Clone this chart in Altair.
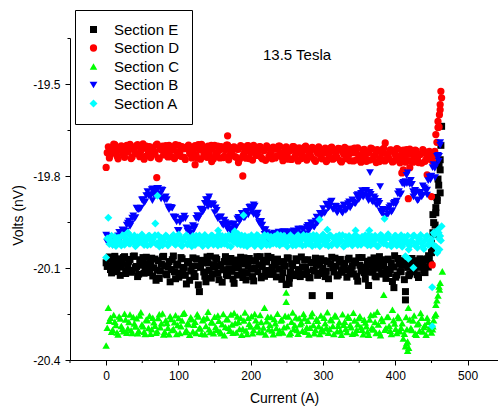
import altair as alt
import pandas as pd

# Current sweep, first reading of every section (A)
current = [
    0, 3, 6, 9, 12, 15, 18, 21, 24, 27,
    30, 33, 36, 39, 42, 45, 48, 51, 54, 57,
    60, 63, 66, 69, 72, 75, 78, 81, 84, 87,
    90, 93, 96, 99, 102, 105, 108, 111, 114, 117,
    120, 123, 126, 129, 132, 135, 138, 141, 144, 147,
    150, 153, 156, 159, 162, 165, 168, 171, 174, 177,
    180, 183, 186, 189, 192, 195, 198, 201, 204, 207,
    210, 213, 216, 219, 222, 225, 228, 231, 234, 237,
    240, 243, 246, 249, 252, 255, 258, 261, 264, 267,
    270, 273, 276, 279, 282, 285, 288, 291, 294, 297,
    300, 303, 306, 309, 312, 315, 318, 321, 324, 327,
    330, 333, 336, 339, 342, 345, 348, 351, 354, 357,
    360, 363, 366, 369, 372, 375, 378, 381, 384, 387,
    390, 393, 396, 399, 402, 405, 408, 411, 414, 417,
    420, 423, 426, 429, 432, 435, 438, 441, 444, 447,
    450, 453, 456, 459, 462,
]

# Current sweep, second reading (A)
current_2 = [
    1.5, 4.5, 7.5, 10.5, 13.5, 16.5, 19.5, 22.5, 25.5, 28.5,
    31.5, 34.5, 37.5, 40.5, 43.5, 46.5, 49.5, 52.5, 55.5, 58.5,
    61.5, 64.5, 67.5, 70.5, 73.5, 76.5, 79.5, 82.5, 85.5, 88.5,
    91.5, 94.5, 97.5, 100.5, 103.5, 106.5, 109.5, 112.5, 115.5, 118.5,
    121.5, 124.5, 127.5, 130.5, 133.5, 136.5, 139.5, 142.5, 145.5, 148.5,
    151.5, 154.5, 157.5, 160.5, 163.5, 166.5, 169.5, 172.5, 175.5, 178.5,
    181.5, 184.5, 187.5, 190.5, 193.5, 196.5, 199.5, 202.5, 205.5, 208.5,
    211.5, 214.5, 217.5, 220.5, 223.5, 226.5, 229.5, 232.5, 235.5, 238.5,
    241.5, 244.5, 247.5, 250.5, 253.5, 256.5, 259.5, 262.5, 265.5, 268.5,
    271.5, 274.5, 277.5, 280.5, 283.5, 286.5, 289.5, 292.5, 295.5, 298.5,
    301.5, 304.5, 307.5, 310.5, 313.5, 316.5, 319.5, 322.5, 325.5, 328.5,
    331.5, 334.5, 337.5, 340.5, 343.5, 346.5, 349.5, 352.5, 355.5, 358.5,
    361.5, 364.5, 367.5, 370.5, 373.5, 376.5, 379.5, 382.5, 385.5, 388.5,
    391.5, 394.5, 397.5, 400.5, 403.5, 406.5, 409.5, 412.5, 415.5, 418.5,
    421.5, 424.5, 427.5, 430.5, 433.5, 436.5, 439.5, 442.5, 445.5, 448.5,
    451.5, 454.5, 457.5, 460.5,
]

# Section E (nV)
volts_e = [
    -20.083, -20.070, -20.105, -20.088, -20.062, -20.112, -20.079, -20.097, -20.066, -20.118,
    -20.090, -20.072, -20.108, -20.061, -20.095, -20.120, -20.081, -20.066, -20.103, -20.086,
    -20.115, -20.068, -20.099, -20.140, -20.076, -20.110, -20.064, -20.093, -20.122, -20.079,
    -20.105, -20.061, -20.135, -20.087, -20.116, -20.070, -20.098, -20.152, -20.082, -20.110,
    -20.067, -20.128, -20.093, -20.177, -20.075, -20.113, -20.145, -20.084, -20.062, -20.119,
    -20.096, -20.072, -20.138, -20.089, -20.106, -20.063, -20.125, -20.080, -20.111, -20.150,
    -20.074, -20.099, -20.065, -20.131, -20.087, -20.117, -20.069, -20.104, -20.142, -20.078,
    -20.112, -20.063, -20.095, -20.127, -20.080, -20.108, -20.066, -20.118, -20.090, -20.071,
    -20.103, -20.137, -20.083, -20.154, -20.068, -20.114, -20.092, -20.125, -20.076, -20.109,
    -20.064, -20.121, -20.097, -20.073, -20.132, -20.190, -20.110, -20.086, -20.118, -20.070,
    -20.101, -20.128, -20.079, -20.190, -20.065, -20.113, -20.094, -20.122, -20.072, -20.106,
    -20.085, -20.130, -20.068, -20.102, -20.119, -20.077, -20.143, -20.091, -20.066, -20.115,
    -20.097, -20.157, -20.074, -20.109, -20.126, -20.082, -20.063, -20.118, -20.095, -20.134,
    -20.071, -20.105, -20.144, -20.060, -20.123, -20.088, -20.112, -20.076, -20.177, -20.098,
    -20.120, -20.069, -20.108, -20.085, -20.131, -20.073, -20.094, -20.115, -20.070, -20.066,
    -20.050, -19.952, -19.903, -19.810, -19.747,
]
volts_e_2 = [
    -20.095, -20.064, -20.116, -20.076, -20.101, -20.070, -20.124, -20.085, -20.063, -20.109,
    -20.078, -20.114, -20.062, -20.099, -20.128, -20.073, -20.091, -20.117, -20.065, -20.104,
    -20.082, -20.126, -20.071, -20.107, -20.134, -20.088, -20.062, -20.119, -20.096, -20.145,
    -20.073, -20.112, -20.091, -20.130, -20.066, -20.104, -20.124, -20.079, -20.140, -20.094,
    -20.118, -20.070, -20.155, -20.098, -20.083, -20.127, -20.064, -20.108, -20.133, -20.089,
    -20.067, -20.117, -20.094, -20.146, -20.079, -20.121, -20.102, -20.069, -20.136, -20.092,
    -20.123, -20.081, -20.112, -20.067, -20.139, -20.095, -20.076, -20.128, -20.101, -20.063,
    -20.090, -20.132, -20.075, -20.110, -20.062, -20.121, -20.098, -20.084, -20.129, -20.103,
    -20.079, -20.115, -20.094, -20.067, -20.133, -20.086, -20.120, -20.070, -20.105, -20.128,
    -20.097, -20.074, -20.113, -20.131, -20.082, -20.106, -20.068, -20.124, -20.091, -20.113,
    -20.076, -20.111, -20.135, -20.087, -20.099, -20.068, -20.126, -20.081, -20.114, -20.092,
    -20.107, -20.072, -20.119, -20.094, -20.083, -20.127, -20.066, -20.110, -20.098, -20.136,
    -20.078, -20.114, -20.090, -20.067, -20.129, -20.101, -20.085, -20.120, -20.073, -20.106,
    -20.118, -20.083, -20.097, -20.130, -20.069, -20.112, -20.091, -20.138, -20.080, -20.125,
    -20.090, -20.113, -20.076, -20.122, -20.098, -20.084, -20.108, -20.075, -20.097, -20.087,
    -20.030, -19.990, -19.870, -19.760,
]
extra_current_e = [253, 398, 414, 434, 441, 446, 450, 452, 452, 455, 456, 458, 460, 462, 462, 463, 464]
extra_volts_e = [-20.150, -20.164, -20.204, -20.070, -20.073, -20.060, -20.020, -19.926, -19.985,
                 -19.960, -19.920, -19.880, -19.830, -19.855, -19.780, -19.700, -19.638]

# Section D (nV)
volts_d = [
    -19.772, -19.705, -19.728, -19.712, -19.698, -19.735, -19.716, -19.702, -19.731, -19.709,
    -19.722, -19.697, -19.738, -19.713, -19.701, -19.729, -19.718, -19.695, -19.736, -19.711,
    -19.704, -19.733, -19.719, -19.699, -19.741, -19.712, -19.703, -19.730, -19.716, -19.700,
    -19.737, -19.714, -19.698, -19.732, -19.720, -19.704, -19.739, -19.711, -19.699, -19.728,
    -19.716, -19.701, -19.742, -19.713, -19.697, -19.734, -19.719, -19.703, -19.738, -19.710,
    -19.700, -19.731, -19.717, -19.704, -19.740, -19.714, -19.699, -19.733, -19.721, -19.705,
    -19.739, -19.712, -19.701, -19.735, -19.718, -19.702, -19.743, -19.715, -19.700, -19.731,
    -19.720, -19.704, -19.744, -19.716, -19.702, -19.736, -19.722, -19.706, -19.741, -19.713,
    -19.703, -19.738, -19.721, -19.705, -19.745, -19.717, -19.704, -19.737, -19.723, -19.708,
    -19.743, -19.715, -19.703, -19.739, -19.724, -19.707, -19.747, -19.719, -19.705, -19.740,
    -19.725, -19.709, -19.748, -19.720, -19.706, -19.742, -19.727, -19.710, -19.750, -19.721,
    -19.707, -19.744, -19.728, -19.712, -19.751, -19.723, -19.708, -19.746, -19.729, -19.713,
    -19.752, -19.724, -19.709, -19.745, -19.731, -19.714, -19.753, -19.726, -19.710, -19.747,
    -19.730, -19.715, -19.754, -19.727, -19.711, -19.749, -19.733, -19.716, -19.755, -19.728,
    -19.712, -19.750, -19.734, -19.718, -19.756, -19.729, -19.714, -19.752, -19.736, -19.720,
    -19.745, -19.735, -19.665, -19.622, -19.567,
]
volts_d_2 = [
    -19.724, -19.741, -19.709, -19.696, -19.727, -19.744, -19.706, -19.719, -19.739, -19.700,
    -19.715, -19.743, -19.706, -19.726, -19.698, -19.737, -19.712, -19.745, -19.703, -19.722,
    -19.740, -19.708, -19.725, -19.696, -19.744, -19.714, -19.731, -19.701, -19.738, -19.718,
    -19.706, -19.743, -19.721, -19.700, -19.736, -19.711, -19.746, -19.704, -19.725, -19.741,
    -19.709, -19.730, -19.698, -19.745, -19.717, -19.706, -19.739, -19.722, -19.700, -19.744,
    -19.726, -19.703, -19.741, -19.712, -19.735, -19.699, -19.747, -19.719, -19.707, -19.737,
    -19.713, -19.745, -19.704, -19.728, -19.742, -19.701, -19.724, -19.748, -19.710, -19.733,
    -19.705, -19.739, -19.718, -19.749, -19.707, -19.730, -19.744, -19.712, -19.735, -19.703,
    -19.727, -19.750, -19.709, -19.733, -19.716, -19.746, -19.704, -19.729, -19.751, -19.714,
    -19.731, -19.706, -19.748, -19.720, -19.738, -19.709, -19.752, -19.726, -19.712, -19.744,
    -19.716, -19.753, -19.730, -19.708, -19.745, -19.722, -19.740, -19.711, -19.754, -19.728,
    -19.735, -19.712, -19.750, -19.724, -19.709, -19.747, -19.731, -19.755, -19.715, -19.739,
    -19.721, -19.748, -19.711, -19.736, -19.756, -19.718, -19.742, -19.713, -19.751, -19.729,
    -19.744, -19.716, -19.752, -19.733, -19.712, -19.757, -19.725, -19.740, -19.714, -19.750,
    -19.727, -19.755, -19.716, -19.743, -19.731, -19.758, -19.719, -19.747, -19.733, -19.741,
    -19.752, -19.720, -19.690, -19.640,
]
extra_current_d = [70, 123, 146, 168, 183, 189, 386, 409, 411, 418, 420, 444, 450, 451, 459, 461, 462, 463, 464]
extra_volts_d = [-19.805, -19.763, -19.753, -19.669, -19.756, -19.800, -19.692, -19.790, -19.780, -19.874,
                 -19.773, -19.796, -19.867, -20.090, -19.642, -19.600, -19.584, -19.524, -19.545]

# Section C (nV)
volts_c = [
    -20.353, -20.230, -20.262, -20.301, -20.275, -20.310, -20.258, -20.289, -20.306, -20.268,
    -20.297, -20.252, -20.312, -20.281, -20.264, -20.305, -20.244, -20.290, -20.315, -20.270,
    -20.256, -20.300, -20.277, -20.311, -20.263, -20.293, -20.248, -20.308, -20.279, -20.316,
    -20.266, -20.299, -20.254, -20.286, -20.312, -20.271, -20.246, -20.303, -20.283, -20.261,
    -20.307, -20.275, -20.251, -20.296, -20.314, -20.265, -20.289, -20.243, -20.309, -20.278,
    -20.259, -20.301, -20.272, -20.313, -20.250, -20.292, -20.267, -20.305, -20.284, -20.247,
    -20.310, -20.276, -20.262, -20.298, -20.245, -20.315, -20.282, -20.257, -20.302, -20.270,
    -20.291, -20.253, -20.309, -20.230, -20.274, -20.300, -20.260, -20.316, -20.280, -20.249,
    -20.304, -20.268, -20.293, -20.180, -20.258, -20.311, -20.245, -20.287, -20.302, -20.264,
    -20.278, -20.250, -20.308, -20.272, -20.295, -20.247, -20.313, -20.266, -20.290, -20.255,
    -20.306, -20.280, -20.244, -20.299, -20.270, -20.315, -20.258, -20.288, -20.304, -20.251,
    -20.275, -20.309, -20.262, -20.293, -20.246, -20.312, -20.283, -20.257, -20.301, -20.269,
    -20.290, -20.318, -20.253, -20.300, -20.276, -20.243, -20.310, -20.265, -20.187, -20.296,
    -20.259, -20.305, -20.236, -20.281, -20.312, -20.263, -20.295, -20.330, -20.355, -20.370,
    -20.268, -20.302, -20.255, -20.318, -20.279, -20.247, -20.307, -20.286, -20.262, -20.300,
    -20.310, -20.270, -20.220, -20.190, -20.148,
]
volts_c_2 = [
    -20.295, -20.272, -20.308, -20.253, -20.286, -20.317, -20.265, -20.298, -20.249, -20.311,
    -20.276, -20.303, -20.260, -20.291, -20.313, -20.255, -20.284, -20.308, -20.268, -20.296,
    -20.314, -20.262, -20.288, -20.306, -20.251, -20.280, -20.317, -20.270, -20.295, -20.257,
    -20.302, -20.277, -20.315, -20.263, -20.290, -20.249, -20.309, -20.281, -20.318, -20.267,
    -20.285, -20.312, -20.258, -20.297, -20.270, -20.316, -20.262, -20.300, -20.276, -20.313,
    -20.292, -20.255, -20.307, -20.283, -20.319, -20.266, -20.295, -20.252, -20.311, -20.279,
    -20.258, -20.299, -20.318, -20.271, -20.304, -20.262, -20.291, -20.313, -20.250, -20.287,
    -20.309, -20.276, -20.294, -20.317, -20.259, -20.285, -20.304, -20.266, -20.296, -20.312,
    -20.271, -20.310, -20.256, -20.290, -20.316, -20.275, -20.299, -20.261, -20.314, -20.283,
    -20.305, -20.264, -20.293, -20.317, -20.257, -20.286, -20.302, -20.272, -20.315, -20.298,
    -20.262, -20.295, -20.311, -20.268, -20.289, -20.254, -20.306, -20.277, -20.318, -20.285,
    -20.298, -20.257, -20.286, -20.314, -20.271, -20.301, -20.263, -20.292, -20.316, -20.278,
    -20.307, -20.268, -20.295, -20.252, -20.312, -20.284, -20.319, -20.273, -20.301, -20.260,
    -20.289, -20.315, -20.270, -20.298, -20.257, -20.306, -20.280, -20.314, -20.345, -20.360,
    -20.296, -20.271, -20.314, -20.283, -20.305, -20.262, -20.292, -20.318, -20.275, -20.290,
    -20.300, -20.255, -20.205, -20.160,
]
extra_current_c = [249, 370, 415, 416, 417, 418, 452, 456, 461, 465]
extra_volts_c = [-20.210, -20.300, -20.260, -20.300, -20.340, -20.230, -20.290, -20.250, -20.170, -20.111]

# Section B (nV)
volts_b = [
    -19.993, -20.016, -20.008, -20.026, -20.002, -20.007, -19.984, -20.001, -19.978, -19.980,
    -19.954, -19.964, -19.937, -19.938, -19.905, -19.910, -19.905, -19.877, -19.884, -19.851,
    -19.861, -19.844, -19.862, -19.845, -19.840, -19.858, -19.847, -19.879, -19.877, -19.910,
    -19.903, -19.933, -19.934, -19.977, -19.951, -19.940, -19.931, -19.969, -19.972, -19.988,
    -19.962, -19.966, -19.929, -19.932, -19.908, -19.911, -19.877, -19.877, -19.894, -19.890,
    -19.919, -19.912, -19.937, -19.933, -19.961, -19.952, -19.974, -19.957, -19.974, -19.956,
    -19.965, -19.935, -19.942, -19.922, -19.936, -19.915, -19.902, -19.915, -19.894, -19.923,
    -19.921, -19.957, -19.960, -19.990, -19.985, -20.006, -19.989, -20.007, -19.990, -20.006,
    -19.985, -19.999, -19.981, -20.002, -19.989, -19.981, -20.001, -19.982, -19.990, -19.973,
    -19.992, -19.976, -19.988, -19.961, -19.971, -19.954, -19.967, -19.934, -19.942, -19.923,
    -19.906, -19.919, -19.896, -19.900, -19.882, -19.909, -19.899, -19.914, -19.907, -19.921,
    -19.895, -19.908, -19.884, -19.897, -19.884, -19.890, -19.861, -19.869, -19.848, -19.863,
    -19.848, -19.866, -19.860, -19.885, -19.874, -19.894, -19.889, -19.920, -19.913, -19.931,
    -19.924, -19.897, -19.913, -19.886, -19.882, -19.851, -19.858, -19.821, -19.818, -19.790,
    -19.827, -19.827, -19.860, -19.852, -19.878, -19.853, -19.862, -19.842, -19.846, -19.803,
    -19.800, -19.763, -19.766, -19.733, -19.691,
]
volts_b_2 = [
    -20.016, -19.997, -20.016, -20.004, -20.019, -19.995, -20.001, -19.976, -19.982, -19.960,
    -19.947, -19.956, -19.930, -19.936, -19.909, -19.908, -19.878, -19.888, -19.864, -19.863,
    -19.866, -19.842, -19.855, -19.840, -19.859, -19.845, -19.871, -19.868, -19.901, -19.902,
    -19.905, -19.937, -19.950, -19.978, -19.940, -19.940, -19.939, -19.980, -19.976, -19.986,
    -19.973, -19.938, -19.940, -19.909, -19.918, -19.889, -19.889, -19.868, -19.896, -19.894,
    -19.904, -19.939, -19.934, -19.957, -19.944, -19.964, -19.956, -19.981, -19.962, -19.969,
    -19.940, -19.948, -19.922, -19.937, -19.917, -19.927, -19.901, -19.908, -19.898, -19.934,
    -19.952, -19.948, -19.975, -19.975, -20.007, -19.996, -20.011, -19.986, -20.000, -19.983,
    -20.002, -19.982, -19.999, -19.984, -20.004, -19.986, -19.979, -19.997, -19.973, -19.988,
    -19.972, -19.990, -19.967, -19.978, -19.953, -19.965, -19.947, -19.953, -19.922, -19.924,
    -19.922, -19.892, -19.904, -19.885, -19.908, -19.898, -19.920, -19.904, -19.917, -19.895,
    -19.912, -19.890, -19.904, -19.878, -19.889, -19.864, -19.877, -19.857, -19.869, -19.847,
    -19.869, -19.853, -19.881, -19.868, -19.893, -19.883, -19.914, -19.909, -19.933, -19.910,
    -19.903, -19.918, -19.890, -19.893, -19.858, -19.862, -19.825, -19.828, -19.798, -19.821,
    -19.814, -19.851, -19.847, -19.880, -19.859, -19.868, -19.838, -19.847, -19.815, -19.813,
    -19.773, -19.775, -19.736, -19.736,
]
extra_current_b = [64, 76, 141, 204, 363, 365, 379, 416, 425, 438, 444, 455, 460, 462]
extra_volts_b = [-19.880, -19.875, -19.900, -19.925, -19.880, -19.789, -19.835, -19.825, -19.868,
                 -19.832, -19.862, -19.805, -19.752, -19.700]

# Section A (nV)
volts_a = [
    -20.066, -19.936, -20.012, -20.024, -19.998, -20.015, -20.003, -20.027, -19.996, -20.010,
    -19.985, -20.021, -20.005, -19.994, -20.025, -20.009, -19.998, -20.018, -20.004, -20.026,
    -19.995, -20.013, -20.000, -20.022, -19.993, -20.011, -20.026, -20.002, -19.997, -20.019,
    -20.006, -19.992, -20.024, -20.011, -19.999, -20.028, -20.004, -19.993, -20.017, -20.008,
    -19.996, -20.025, -20.010, -19.994, -20.020, -20.003, -19.998, -20.027, -20.012, -19.995,
    -20.018, -20.005, -19.991, -20.023, -20.009, -19.997, -20.026, -20.007, -19.994, -20.015,
    -20.002, -19.990, -20.024, -20.011, -19.996, -20.029, -20.006, -19.993, -20.019, -20.004,
    -19.995, -20.022, -20.009, -19.992, -20.025, -20.003, -19.998, -20.020, -20.008, -19.991,
    -20.026, -20.012, -19.995, -20.018, -20.005, -19.993, -20.027, -20.009, -19.997, -20.021,
    -20.004, -19.992, -20.024, -20.013, -19.996, -20.028, -20.007, -19.994, -20.016, -20.003,
    -19.991, -20.023, -20.010, -19.995, -20.026, -20.004, -19.997, -20.019, -20.008, -19.993,
    -20.027, -20.011, -19.996, -20.021, -20.006, -19.992, -20.025, -20.012, -19.998, -20.018,
    -20.005, -19.993, -20.026, -20.010, -19.995, -20.029, -20.008, -19.994, -20.020, -20.004,
    -19.990, -20.024, -20.011, -19.996, -20.027, -20.006, -19.993, -20.021, -20.009, -19.995,
    -20.028, -20.013, -19.994, -20.020, -20.005, -19.992, -20.030, -20.010, -19.996, -20.023,
    -20.006, -19.985, -20.030, -19.975, -19.996,
]
volts_a_2 = [
    -20.004, -20.022, -19.995, -20.013, -20.028, -20.001, -20.017, -19.993, -20.024, -20.007,
    -20.020, -19.997, -20.012, -20.029, -20.000, -20.016, -19.991, -20.025, -20.008, -19.996,
    -20.023, -20.006, -19.993, -20.019, -20.030, -20.002, -20.014, -19.994, -20.027, -20.010,
    -19.997, -20.021, -20.007, -19.991, -20.026, -20.012, -19.998, -20.023, -20.005, -20.029,
    -20.011, -19.995, -20.018, -20.004, -20.028, -19.992, -20.015, -20.008, -19.994, -20.024,
    -20.003, -20.027, -20.012, -19.996, -20.021, -20.006, -19.993, -20.030, -20.010, -19.998,
    -20.022, -20.007, -19.994, -20.026, -20.013, -19.999, -20.020, -20.004, -20.028, -19.992,
    -20.014, -20.029, -20.001, -20.018, -19.995, -20.025, -20.009, -19.997, -20.022, -20.006,
    -19.994, -20.020, -20.008, -20.030, -19.998, -20.015, -20.003, -20.026, -19.993, -20.012,
    -20.027, -20.005, -19.996, -20.021, -20.011, -19.992, -20.024, -20.009, -20.029, -19.999,
    -20.016, -20.002, -20.028, -19.994, -20.019, -20.007, -20.025, -19.993, -20.012, -20.030,
    -19.998, -20.022, -20.006, -20.027, -19.995, -20.014, -20.001, -20.024, -20.009, -19.993,
    -20.026, -20.011, -19.997, -20.020, -20.004, -20.028, -19.992, -20.016, -20.007, -20.025,
    -20.001, -20.029, -20.013, -19.995, -20.022, -20.008, -20.031, -19.999, -20.018, -20.040,
    -20.012, -19.996, -20.027, -20.034, -20.003, -20.020, -20.038, -19.998, -20.025, -20.014,
    -20.022, -19.990, -20.035, -20.005,
]
extra_current_a = [30, 68, 71, 155, 178, 190, 295, 306, 345, 364, 385, 414, 418, 425, 451, 451,
                   458, 460, 461, 463, 464]
extra_volts_a = [-19.985, -19.955, -19.864, -19.978, -19.980, -19.928, -19.942, -19.975, -19.978,
                 -19.978, -19.939, -20.062, -20.070, -20.099, -20.163, -20.290, -20.050, -19.985,
                 -20.040, -20.010, -19.964]

names = ["Section E", "Section D", "Section C", "Section B", "Section A"]
colors = ["#000000", "#ff0000", "#00ff00", "#0000ff", "#00ffff"]
shapes = ["square", "circle", "triangle-up", "triangle-down", "diamond"]
marker_sizes = [49, 64, 90, 100, 81]

x_major_ticks = [0, 100, 200, 300, 400, 500]
x_minor_ticks = [-50, 50, 150, 250, 350, 450]
y_tick_values = [-20.4, -20.25, -20.1, -19.95, -19.8, -19.65, -19.5, -19.35]
y_labelled = [-20.4, -20.1, -19.8, -19.5]

series = [
    (volts_e, volts_e_2, extra_current_e, extra_volts_e),
    (volts_d, volts_d_2, extra_current_d, extra_volts_d),
    (volts_c, volts_c_2, extra_current_c, extra_volts_c),
    (volts_b, volts_b_2, extra_current_b, extra_volts_b),
    (volts_a, volts_a_2, extra_current_a, extra_volts_a),
]

# Rows in plotting order: E first (bottom), A last (top)
rows = []
for name, (v1, v2, ex_c, ex_v) in zip(names, series):
    for xs, vs in ((current, v1), (current_2, v2), (ex_c, ex_v)):
        for c, v in zip(xs, vs, strict=True):
            rows.append({"current": c, "volts": v, "series": name})
df = pd.DataFrame(rows)

FONT = "Liberation Sans"

x_scale = alt.Scale(domain=[-50, 542], nice=False, zero=False)
y_scale = alt.Scale(domain=[-20.4, -19.35], nice=False, zero=False)

legend = alt.Legend(
    title=None, orient="none", legendX=5, legendY=-28,
    fillColor="white", strokeColor="black",
    padding=12, rowPadding=2.5, labelFont=FONT, labelFontSize=15, labelColor="black",
    labelOffset=13, symbolOffset=-1, symbolSize=60, symbolStrokeWidth=0,
)

x_axis = alt.Axis(
    values=x_major_ticks, format="d",
    grid=False, tickSize=5, tickWidth=1, tickColor="black", domainColor="black", domainWidth=1,
    labelFont=FONT, labelFontSize=12, labelColor="black", labelPadding=5,
    labelFlush=False, labelOverlap=False,
    title="Current (A)", titleFont=FONT, titleFontSize=14, titleFontWeight="normal",
    titleColor="black", titleY=31, titleBaseline="top",
)

y_major = "indexof(%s, round(datum.value * 100)) >= 0" % [round(v * 100) for v in y_labelled]

y_axis = alt.Axis(
    values=y_tick_values,
    labelExpr=y_major + " ? toString(round(datum.value * 10) / 10) : ''",
    grid=False, tickWidth=1, tickColor="black", domainColor="black", domainWidth=1,
    tickSize={"condition": {"test": y_major, "value": 5}, "value": 3},
    labelFont=FONT, labelFontSize=12, labelColor="black", labelPadding=5,
    labelFlush=False, labelOverlap=False,
    title="Volts (nV)", titleFont=FONT, titleFontSize=14, titleFontWeight="normal",
    titleColor="black", titleAngle=270, titleX=-45, titleY=177, titleBaseline="bottom",
)

points = alt.Chart(df).mark_point(filled=True, opacity=1, strokeWidth=0).encode(
    x=alt.X("current:Q", scale=x_scale, axis=x_axis),
    y=alt.Y("volts:Q", scale=y_scale, axis=y_axis),
    color=alt.Color("series:N", scale=alt.Scale(domain=names, range=colors), legend=legend),
    shape=alt.Shape("series:N", scale=alt.Scale(domain=names, range=shapes), legend=legend),
    size=alt.Size("series:N", scale=alt.Scale(domain=names, range=marker_sizes), legend=None),
)

# Short unlabelled ticks halfway between the labelled currents
minor_ticks = alt.Chart(pd.DataFrame({"current": x_minor_ticks})).mark_rule(
    color="black", strokeWidth=1
).encode(
    x=alt.X("current:Q", scale=x_scale),
    y=alt.value(322),
    y2=alt.value(325),
)

label = alt.Chart(pd.DataFrame({"text": ["13.5 Tesla"]})).mark_text(
    font=FONT, fontSize=15, color="black", align="center", baseline="middle"
).encode(
    x=alt.datum(264),
    y=alt.datum(-19.405),
    text="text:N",
)

chart = alt.layer(points, minor_ticks, label).properties(
    width=428,
    height=322,
    autosize=alt.AutoSizeParams(type="none"),
    padding={"left": 70, "top": 38, "right": 0, "bottom": 48},
    background="white",
).configure_view(strokeOpacity=0)

chart.save("out.html", embed_options={"renderer": "svg", "actions": False})
